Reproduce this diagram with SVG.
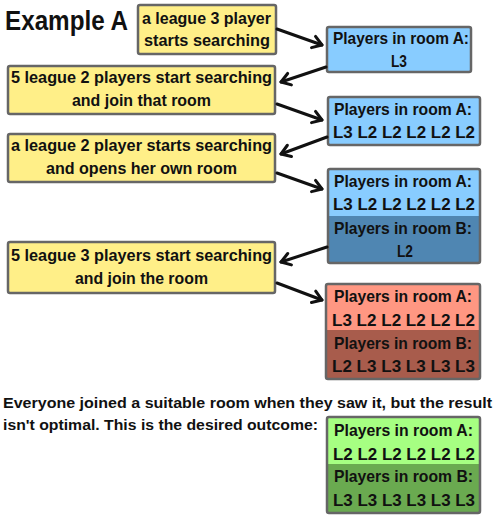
<svg xmlns="http://www.w3.org/2000/svg" width="500" height="517" viewBox="0 0 500 517">
<style>
text{font-family:"Liberation Sans",Arial,sans-serif;font-weight:bold;font-size:17px;fill:#111}
.sum{font-size:15.5px}
.box{stroke:#666;stroke-width:2.5}
.y{fill:#FFEF88}
.lb{fill:#88CCFF}
.db{fill:#4F86B2}
.lr{fill:#FF9782}
.dr{fill:#A85C4C}
.lg{fill:#A6FF82}
.dg{fill:#6AAA50}
.ar{stroke:#111;stroke-width:3;fill:none;stroke-linecap:round}
</style>
<defs>
<marker id="ah" markerUnits="userSpaceOnUse" markerWidth="16" markerHeight="16" refX="12" refY="7" orient="auto" viewBox="0 0 16 14">
<path d="M3,1 L12,7 L3,13" fill="none" stroke="#111" stroke-width="3" stroke-linecap="round" stroke-linejoin="round"/>
</marker>
</defs>
<rect width="500" height="517" fill="#fff"/>
<text x="5" y="30" textLength="123" lengthAdjust="spacingAndGlyphs" style="font-size:28px">Example A</text>

<g id="step1">
<rect class="box y" x="138" y="5" width="138" height="49" rx="2"/>
<text x="142" y="24" textLength="129" lengthAdjust="spacingAndGlyphs">a league 3 player</text>
<text x="144" y="46" textLength="126" lengthAdjust="spacingAndGlyphs">starts searching</text>
</g>
<g id="step2">
<rect class="box y" x="8" y="66" width="267" height="48" rx="2"/>
<text x="11" y="83" textLength="261" lengthAdjust="spacingAndGlyphs">5 league 2 players start searching</text>
<text x="72" y="106" textLength="139" lengthAdjust="spacingAndGlyphs">and join that room</text>
</g>
<g id="step3">
<rect class="box y" x="8" y="134" width="267" height="48" rx="2"/>
<text x="11" y="151" textLength="261" lengthAdjust="spacingAndGlyphs">a league 2 player starts searching</text>
<text x="46" y="174" textLength="191" lengthAdjust="spacingAndGlyphs">and opens her own room</text>
</g>
<g id="step4">
<rect class="box y" x="8" y="242" width="267" height="51" rx="2"/>
<text x="11" y="261" textLength="261" lengthAdjust="spacingAndGlyphs">5 league 3 players start searching</text>
<text x="75" y="284" textLength="133" lengthAdjust="spacingAndGlyphs">and join the room</text>
</g>

<g id="room1">
<rect class="box lb" x="327" y="27" width="144" height="45" rx="2"/>
<text x="333" y="44" textLength="136" lengthAdjust="spacingAndGlyphs">Players in room A:</text>
<text x="391" y="67" textLength="16" lengthAdjust="spacingAndGlyphs">L3</text>
</g>
<g id="room2">
<rect class="box lb" x="328" y="97" width="152" height="48" rx="2"/>
<text x="334" y="115" textLength="138" lengthAdjust="spacingAndGlyphs">Players in room A:</text>
<text x="333" y="138" textLength="142" lengthAdjust="spacingAndGlyphs">L3  L2  L2  L2  L2  L2</text>
</g>
<g id="room3">
<rect class="lb" x="328" y="169" width="152" height="47"/>
<rect class="db" x="328" y="216" width="152" height="47"/>
<rect class="box" fill="none" x="328" y="169" width="152" height="94" rx="2"/>
<text x="334" y="187" textLength="138" lengthAdjust="spacingAndGlyphs">Players in room A:</text>
<text x="333" y="210" textLength="142" lengthAdjust="spacingAndGlyphs">L3  L2  L2  L2  L2  L2</text>
<text x="334" y="234" textLength="138" lengthAdjust="spacingAndGlyphs">Players in room B:</text>
<text x="397" y="257" textLength="16" lengthAdjust="spacingAndGlyphs">L2</text>
</g>
<g id="room4">
<rect class="lr" x="326" y="284" width="154" height="46"/>
<rect class="dr" x="326" y="330" width="154" height="49"/>
<rect class="box" fill="none" x="326" y="284" width="154" height="95" rx="2"/>
<text x="334" y="302" textLength="138" lengthAdjust="spacingAndGlyphs">Players in room A:</text>
<text x="332" y="326" textLength="143" lengthAdjust="spacingAndGlyphs">L3  L2  L2  L2  L2  L2</text>
<text x="334" y="349" textLength="138" lengthAdjust="spacingAndGlyphs">Players in room B:</text>
<text x="332" y="372" textLength="143" lengthAdjust="spacingAndGlyphs">L2  L3  L3  L3  L3  L3</text>
</g>

<g id="summary">
<text class="sum" x="3" y="408" textLength="489" lengthAdjust="spacingAndGlyphs">Everyone joined a suitable room when they saw it, but the result</text>
<text class="sum" x="3" y="430" textLength="315" lengthAdjust="spacingAndGlyphs">isn't optimal. This is the desired outcome:</text>
</g>
<g id="desired">
<rect class="lg" x="327" y="417" width="153" height="47"/>
<rect class="dg" x="327" y="464" width="153" height="49"/>
<rect class="box" fill="none" x="327" y="417" width="153" height="96" rx="2"/>
<text x="334" y="436" textLength="139" lengthAdjust="spacingAndGlyphs">Players in room A:</text>
<text x="333" y="460" textLength="142" lengthAdjust="spacingAndGlyphs">L2  L2  L2  L2  L2  L2</text>
<text x="334" y="482" textLength="139" lengthAdjust="spacingAndGlyphs">Players in room B:</text>
<text x="333" y="506" textLength="142" lengthAdjust="spacingAndGlyphs">L3  L3  L3  L3  L3  L3</text>
</g>

<g id="connectors">
<line class="ar" x1="277" y1="29" x2="322" y2="45" marker-end="url(#ah)"/>
<line class="ar" x1="326" y1="67" x2="281" y2="82" marker-end="url(#ah)"/>
<line class="ar" x1="277" y1="104" x2="322" y2="120" marker-end="url(#ah)"/>
<line class="ar" x1="327" y1="137" x2="281" y2="154" marker-end="url(#ah)"/>
<line class="ar" x1="277" y1="173" x2="322" y2="189" marker-end="url(#ah)"/>
<line class="ar" x1="327" y1="247" x2="281" y2="262" marker-end="url(#ah)"/>
<line class="ar" x1="277" y1="283" x2="322" y2="300" marker-end="url(#ah)"/>
</g>
</svg>
